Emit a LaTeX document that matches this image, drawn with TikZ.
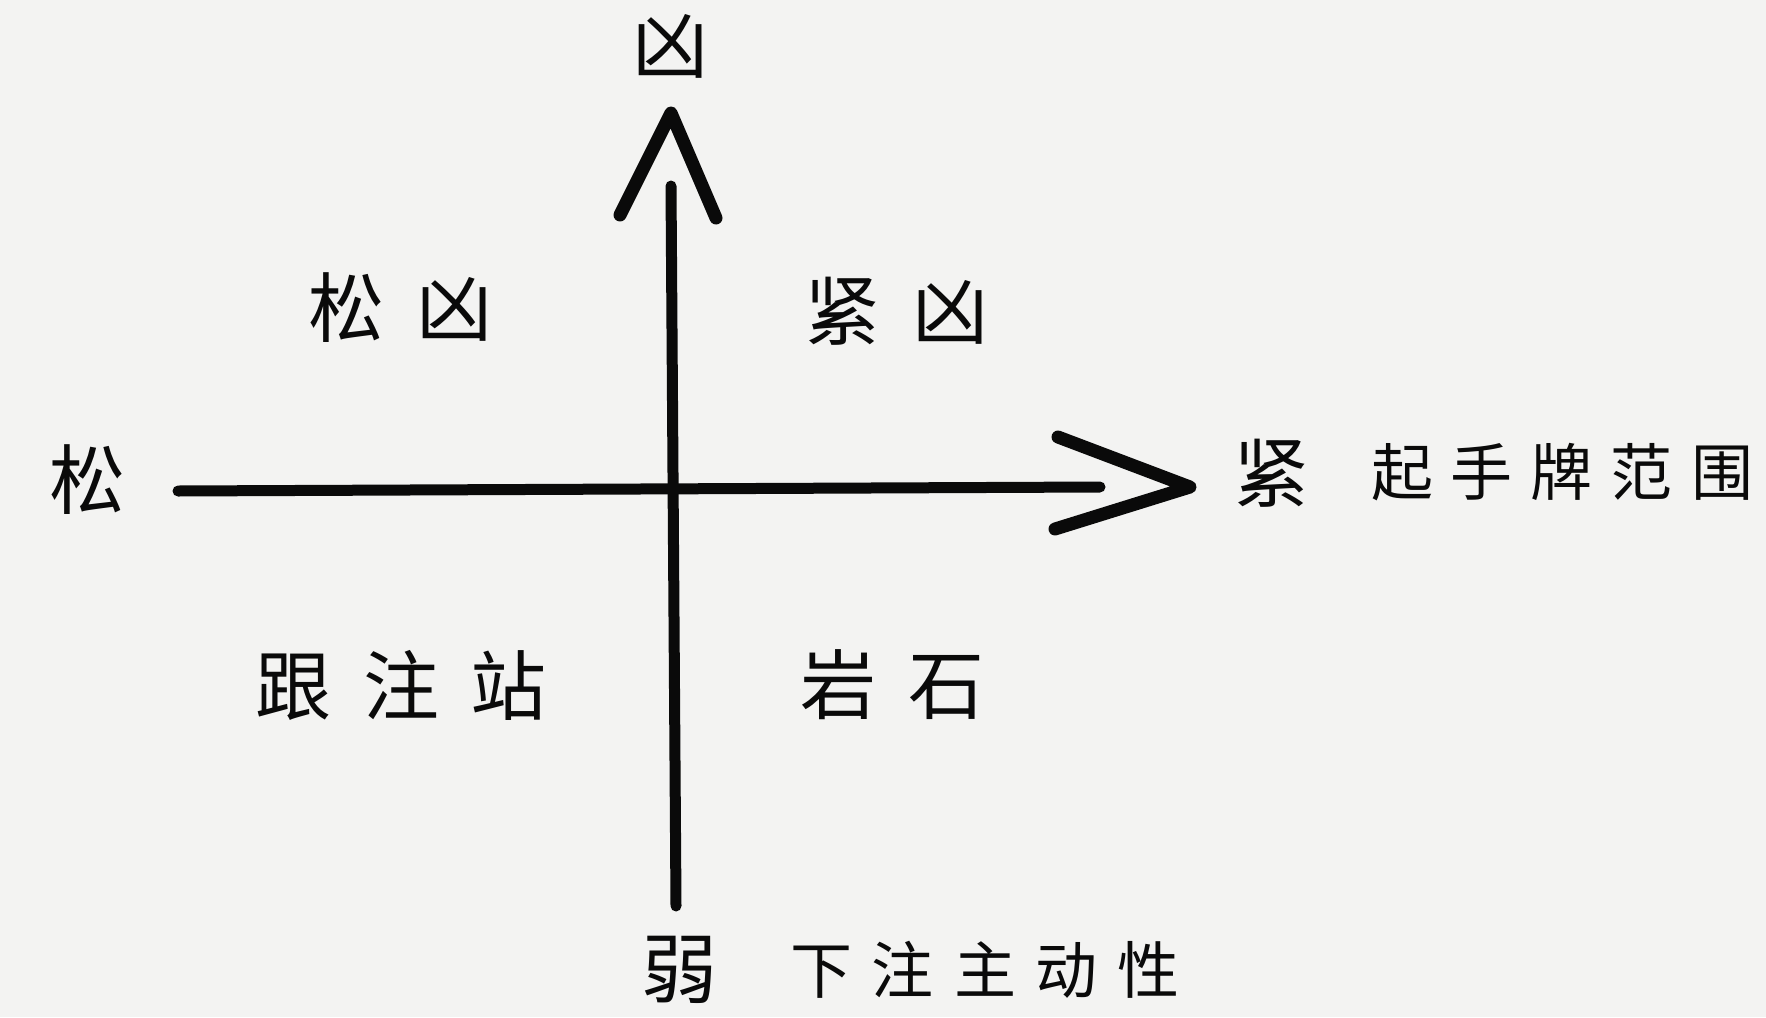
\documentclass[tikz,border=0pt]{standalone}
\usepackage{fontspec}
\newfontfamily\cjk{Noto Sans CJK SC}
\definecolor{paper}{RGB}{243,243,242}
\definecolor{ink}{RGB}{10,10,10}
\tikzset{
  axisline/.style={draw=ink, line width=11pt, line cap=round, line join=round},
  headline/.style={draw=ink, line width=13pt, line cap=round, line join=round},
  biglabel/.style={inner sep=0pt, text=ink, font=\cjk\fontsize{76}{80}\selectfont},
  sublabel/.style={inner sep=0pt, text=ink, font=\cjk\fontsize{62}{66}\selectfont},
}
\begin{document}
\begin{tikzpicture}[x=1pt,y=-1pt]
\fill[paper] (0,0) rectangle (1766,1017);
\useasboundingbox (0,0) rectangle (1766,1017);
% axis coordinates
\coordinate (vtop) at (671,186);
\coordinate (vbot) at (676,906);
\coordinate (vtip) at (671,113);
\coordinate (varmL) at (620,215);
\coordinate (varmR) at (716,218);
\coordinate (hleft) at (178,491);
\coordinate (hright) at (1100,487);
\coordinate (htip) at (1190,487);
\coordinate (harmU) at (1058,437);
\coordinate (harmD) at (1055,529);
% axes
\draw[axisline] (vbot) -- (vtop);
\draw[headline] (varmL) -- (vtip) -- (varmR);
\draw[axisline] (hleft) -- (hright);
\draw[headline] (harmU) -- (htip) -- (harmD);
% axis labels
\node[biglabel] (xiong) at (670,46) {凶};
\node[biglabel] (song) at (87,480) {松};
\node[biglabel] (jin) at (1271,473) {紧};
\node[sublabel] (qishou) at (1562,472) {起\hspace{18pt}手\hspace{18pt}牌\hspace{18pt}范\hspace{18pt}围};
\node[biglabel] (ruo) at (679,970) {弱};
\node[sublabel] (xiazhu) at (985,970) {下\hspace{20pt}注\hspace{20pt}主\hspace{20pt}动\hspace{20pt}性};
% quadrant labels
\node[biglabel] (songxiong) at (400,308) {松\hspace{32pt}凶};
\node[biglabel] (jinxiong) at (896,311) {紧\hspace{32pt}凶};
\node[biglabel] (genzhu) at (401,685) {跟\hspace{32pt}注\hspace{32pt}站};
\node[biglabel] (yanshi) at (892,685) {岩\hspace{32pt}石};
\end{tikzpicture}
\end{document}
